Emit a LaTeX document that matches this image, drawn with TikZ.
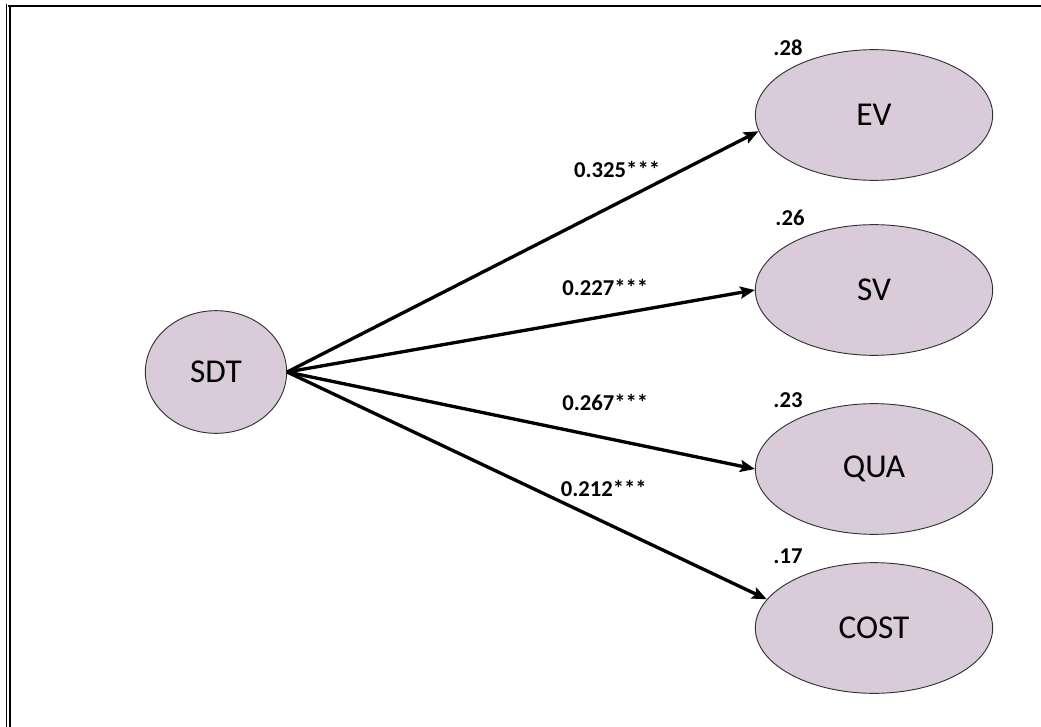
\documentclass[tikz,border=0pt]{standalone}
\usepackage{fontspec}
\setmainfont{Carlito}
\usetikzlibrary{shapes.geometric,arrows.meta}
\definecolor{mauve}{RGB}{217,203,217}

\tikzset{
	latent/.style={ellipse,draw=black!80,line width=0.7pt,fill=mauve,inner sep=0pt,
		minimum width=178pt,minimum height=98pt,font=\fontsize{25}{30}\selectfont},
	coef/.style={font=\bfseries\fontsize{17}{20}\selectfont,inner sep=1pt},
	effect/.style={-{Stealth[length=11pt,width=9pt,inset=2pt]},line width=2.5pt}
}

\begin{document}
\begin{tikzpicture}[x=0.75pt,y=-0.75pt]
	\useasboundingbox (0,0) rectangle (1041,727);
	\draw[line width=1.5pt] (8,6.5) -- (1041,6.5);
	\draw[line width=0.8pt] (6.5,4) -- (6.5,727);
	\draw[line width=1.5pt] (9.5,6) -- (9.5,727);

	\node[latent,minimum width=106pt,minimum height=92pt] (sdt) at (216,372) {SDT};
	\node[latent] (ev) at (874,115) {EV};
	\node[latent] (sv) at (874,290) {SV};
	\node[latent] (qua) at (874,469) {QUA};
	\node[latent] (cost) at (874,628) {COST};

	\node[coef] (r2-ev) at (788,48) {.28};
	\node[coef] (r2-sv) at (790,218) {.26};
	\node[coef] (r2-qua) at (788,400) {.23};
	\node[coef] (r2-cost) at (788,556) {.17};

	\draw[effect] (sdt.east) -- (ev.188) node[coef,pos=0.7,above=17pt] {0.325***};
	\draw[effect] (sdt.east) -- (sv.west) node[coef,pos=0.68,above=13pt] {0.227***};
	\draw[effect] (sdt.east) -- (qua.west) node[coef,pos=0.68,above=18pt] {0.267***};
	\draw[effect] (sdt.east) -- (cost.165) node[coef,pos=0.66,above=17pt] {0.212***};
\end{tikzpicture}
\end{document}
